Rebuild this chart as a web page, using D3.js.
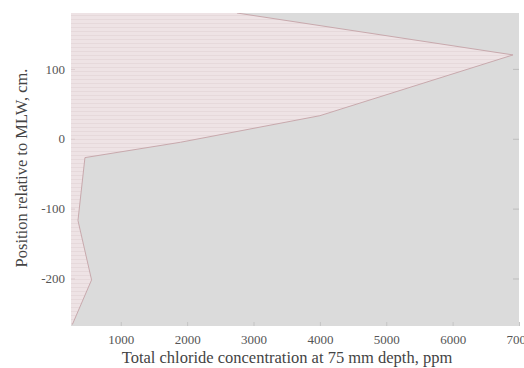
<!DOCTYPE html>
<html>
<head>
<meta charset="utf-8">
<script src="https://cdn.jsdelivr.net/npm/d3@7"></script>
<style>
  body { margin: 0; background: #fff; }
  svg { display: block; }
</style>
</head>
<body>
<svg id="chart"></svg>
<script>
var WIDTH = 524;
var HEIGHT = 368;

// chloride profile: concentration (ppm) at each position (cm rel. MLW)
var concentration = [2750, 6910, 4000, 1900, 460, 355, 560, 270];
var position      = [180,  120,  33,   -5,   -27, -117, -202, -266];

var xTicks = [1000, 2000, 3000, 4000, 5000, 6000, 7000];
var yTicks = [-200, -100, 0, 100];

var margin = {top: 13, right: 5, bottom: 42, left: 71};

var svg = d3.select("#chart")
    .attr("width", WIDTH)
    .attr("height", HEIGHT);

var x = d3.scaleLinear()
    .domain([250, 7000])
    .range([margin.left, WIDTH - margin.right]);

var y = d3.scaleLinear()
    .domain([-268, 180])
    .range([HEIGHT - margin.bottom, margin.top]);

var points = concentration.map(function(c, i) { return {conc: c, pos: position[i]}; });

//plain hyphen for negatives, like the original
var plain = function(d) { return String(d); };

//hatch pattern for the filled region
var pattern = svg.append("defs").append("pattern")
    .attr("id", "hatch")
    .attr("patternUnits", "userSpaceOnUse")
    .attr("width", 8)
    .attr("height", 4);
pattern.append("rect").attr("width", 8).attr("height", 4).attr("fill", "#eee3e5");
pattern.append("rect").attr("y", 3).attr("width", 8).attr("height", 1).attr("fill", "#e6d9db");

svg.append("clipPath").attr("id", "clip")
    .append("rect")
    .attr("x", x.range()[0]).attr("y", y.range()[1])
    .attr("width", x.range()[1] - x.range()[0])
    .attr("height", y.range()[0] - y.range()[1]);

//gray plot background
svg.append("rect")
    .attr("x", x.range()[0]).attr("y", y.range()[1])
    .attr("width", x.range()[1] - x.range()[0])
    .attr("height", y.range()[0] - y.range()[1])
    .attr("fill", "#dbdbdb");

var plot = svg.append("g").attr("clip-path", "url(#clip)");

var area = d3.area()
    .y(function(d) { return y(d.pos); })
    .x0(x.range()[0])
    .x1(function(d) { return x(d.conc); });

plot.append("path")
    .datum(points)
    .attr("d", area)
    .attr("fill", "url(#hatch)");

var line = d3.line()
    .x(function(d) { return x(d.conc); })
    .y(function(d) { return y(d.pos); });

plot.append("path")
    .datum(points)
    .attr("d", line)
    .attr("fill", "none")
    .attr("stroke", "#c8a9ad")
    .attr("stroke-width", 1);

//bottom axis, ticks pointing inward
var xAxis = svg.append("g")
    .attr("transform", "translate(0," + y.range()[0] + ")")
    .call(d3.axisBottom(x).tickValues(xTicks).tickFormat(plain)
        .tickSizeInner(-4).tickSizeOuter(0).tickPadding(9));
xAxis.select(".domain").remove();
xAxis.selectAll(".tick line").attr("stroke", "#c4c4c4");
xAxis.selectAll(".tick text")
    .attr("font-family", "Liberation Serif, serif")
    .attr("font-size", 13)
    .attr("fill", "#555");

//left axis
var yAxis = svg.append("g")
    .attr("transform", "translate(" + x.range()[0] + ",0)")
    .call(d3.axisLeft(y).tickValues(yTicks).tickFormat(plain)
        .tickSizeInner(-4).tickSizeOuter(0).tickPadding(6));
yAxis.select(".domain").remove();
yAxis.selectAll(".tick line").attr("stroke", "#dccdcf");
yAxis.selectAll(".tick text")
    .attr("font-family", "Liberation Serif, serif")
    .attr("font-size", 13)
    .attr("fill", "#555");

//right axis ticks only
var yRight = svg.append("g")
    .attr("transform", "translate(" + x.range()[1] + ",0)")
    .call(d3.axisRight(y).tickValues(yTicks).tickSizeInner(-6).tickSizeOuter(0).tickFormat(""));
yRight.select(".domain").remove();
yRight.selectAll(".tick line").attr("stroke", "#bdbdbd");

//axis titles
svg.append("text")
    .attr("x", 287)
    .attr("y", 363)
    .attr("text-anchor", "middle")
    .attr("font-family", "Liberation Serif, serif")
    .attr("font-size", 16.5)
    .attr("fill", "#444")
    .text("Total chloride concentration at 75 mm depth, ppm");

svg.append("text")
    .attr("transform", "translate(27,168) rotate(-90)")
    .attr("text-anchor", "middle")
    .attr("font-family", "Liberation Serif, serif")
    .attr("font-size", 16.5)
    .attr("fill", "#444")
    .text("Position relative to MLW, cm.");
</script>
</body>
</html>
